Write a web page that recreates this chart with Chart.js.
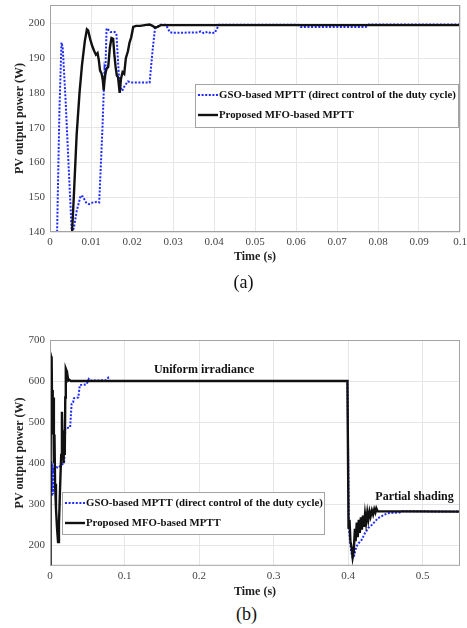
<!DOCTYPE html>
<html>
<head>
<meta charset="utf-8">
<script src="https://cdn.jsdelivr.net/npm/chart.js@4.4.1/dist/chart.umd.min.js"></script>
<style>
    body { margin: 0; background: #fff; width: 467px; height: 628px; position: relative; overflow: hidden; font-family: 'Liberation Serif', 'Times New Roman', serif; }
    canvas { position: absolute; left: 0; }
    .cap { position: absolute; width: 467px; text-align: center; font-size: 18px; line-height: 21px; color: #111; }
</style>
</head>
<body>
<canvas id="chartA" width="467" height="275" style="top:0"></canvas>
<canvas id="chartB" width="467" height="268" style="top:334px"></canvas>
<div class="cap" style="top:272px;left:10px">(a)</div>
<div class="cap" style="top:604px;left:13px">(b)</div>
<script>
// series labels
const seriesLabels = ['GSO-based MPTT (direct control of the duty cycle)', 'Proposed MFO-based MPTT'];

// (a) GSO
const timeA_gso = [0.0017, 0.0023, 0.0028, 0.0031, 0.0038, 0.0045, 0.0053, 0.0058, 0.0065, 0.0075, 0.0080, 0.0088, 0.0095,
    0.0105, 0.0115, 0.0120, 0.0128, 0.0133, 0.0135, 0.0138, 0.0142, 0.0148, 0.0158, 0.0162, 0.0168, 0.0172, 0.0176,
    0.0182, 0.0190, 0.0200, 0.0243, 0.0250, 0.0256, 0.0262, 0.0270, 0.0283, 0.0292, 0.0300, 0.0360, 0.0368, 0.0375,
    0.0385, 0.0392, 0.0402, 0.0412, 0.0605, 0.0612, 0.0770, 0.0778, 0.1000];
const powerA_gso = [138, 175, 194.5, 193, 178, 160, 140, 141, 146, 150.5, 150.2, 148.5, 148.0,
    148.5, 148.7, 148.5, 170, 187, 186, 198.6, 198.2, 197.5, 197.5, 197.0, 185, 181.5, 180.6,
    182.0, 183.3, 183.0, 183.0, 192, 198.5, 199.0, 199.6, 199.6, 197.5, 197.3, 197.4, 197.7, 197.2,
    197.6, 197.2, 197.3, 199.6, 199.6, 199.0, 199.0, 199.7, 199.7];

// (a) MFO
const timeA_mfo = [0.0053, 0.0058, 0.0065, 0.0072, 0.0078, 0.0085, 0.0090, 0.0093, 0.0098, 0.0103, 0.0108, 0.0112,
    0.0116, 0.0119, 0.0122, 0.0126, 0.0129, 0.0131, 0.0134, 0.0138, 0.0142, 0.0146, 0.0150, 0.0154, 0.0157, 0.0160,
    0.0163, 0.0166, 0.0170, 0.0173, 0.0177, 0.0181, 0.0185, 0.0190, 0.0194, 0.0198, 0.0203, 0.0210, 0.0220, 0.0235,
    0.0243, 0.0250, 0.0256, 0.0262, 0.0270, 0.1000];
const powerA_mfo = [138, 150, 168, 180, 188, 195, 198.3, 198.0, 195.5, 193.5, 192.0, 191.0,
    191.5, 189.5, 186.5, 185.5, 183.5, 180.8, 185.0, 187.0, 187.5, 193.0, 195.8, 195.6, 191.0, 187.5,
    185.0, 184.5, 180.0, 184.0, 186.0, 185.5, 190.0, 192.0, 194.5, 196.0, 199.0, 199.3, 199.3, 199.6,
    199.7, 199.3, 198.8, 199.0, 199.5, 199.5];

// (b) GSO
const timeB_gso = [0.0015, 0.0020, 0.0025, 0.0030, 0.0035, 0.0040, 0.0045, 0.0050, 0.0070, 0.0090, 0.0110, 0.0130,
    0.0150, 0.0170, 0.0190, 0.0205, 0.0270, 0.0290, 0.0310, 0.0320, 0.0380, 0.0400, 0.0490, 0.0520, 0.0540, 0.0750,
    0.0780, 0.0800, 0.3990, 0.4010, 0.4040, 0.4060, 0.4080, 0.4110, 0.4140, 0.4180, 0.4220, 0.4270, 0.4320, 0.4400,
    0.4480, 0.4530, 0.4600, 0.4690, 0.4730, 0.5500];
const powerB_gso = [405, 330, 400, 320, 395, 325, 390, 380, 385, 390, 388, 392,
    395, 398, 400, 485, 487, 545, 548, 558, 560, 590, 592, 605, 601, 602,
    608, 600, 600, 237, 185, 169, 175, 197, 205, 213, 228, 242, 250, 266,
    274, 278, 279, 280, 283, 282];

// (b) MFO
const timeB_mfo = [0.0000, 0.0008, 0.0015, 0.0022, 0.0028, 0.0033, 0.0040, 0.0046, 0.0052, 0.0060, 0.0068, 0.0080,
    0.0095, 0.0108, 0.0120, 0.0135, 0.0150, 0.0160, 0.0168, 0.0175, 0.0182, 0.0190, 0.0198, 0.0205, 0.0212, 0.0220,
    0.0228, 0.0236, 0.0245, 0.0260, 0.0280, 0.3990, 0.4005, 0.4018, 0.4030, 0.4045, 0.4060, 0.4075, 0.4090, 0.4100,
    0.4115, 0.4128, 0.4142, 0.4156, 0.4170, 0.4184, 0.4198, 0.4212, 0.4226, 0.4240, 0.4256, 0.4270, 0.4286, 0.4300,
    0.4318, 0.4334, 0.4350, 0.4365, 0.4378, 0.4395, 0.5500];
const powerB_mfo = [140, 400, 660, 655, 540, 578, 470, 560, 400, 470, 350, 290,
    240, 208, 250, 340, 420, 525, 430, 470, 400, 480, 420, 560, 630, 626,
    608, 612, 601, 603, 600, 600, 240, 262, 210, 195, 170, 185, 240, 210,
    255, 220, 262, 230, 268, 238, 272, 245, 276, 255, 280, 262, 282, 270,
    285, 275, 288, 280, 290, 283, 282];

const serif = "'Liberation Serif', 'Times New Roman', serif";

const toXY = (t, p) => t.map((x, i) => ({ x, y: p[i] }));

// box round the plot, like matlab
const framePlugin = {
    id: 'frame',
    afterDraw(chart) {
        const { ctx, chartArea: a } = chart;
        ctx.save();
        ctx.strokeStyle = '#a3a3a3';
        ctx.lineWidth = 1;
        ctx.strokeRect(a.left + 0.5, a.top + 0.5, a.right - a.left - 1, a.bottom - a.top - 1);
        ctx.restore();
    }
};

// legend drawn inside the plot at a fixed box
const boxLegend = {
    id: 'boxLegend',
    afterDraw(chart, args, opts) {
        const { ctx } = chart;
        const b = opts.box;
        ctx.save();
        ctx.fillStyle = '#fff';
        ctx.fillRect(b.x, b.y, b.w, b.h);
        ctx.strokeStyle = '#a3a3a3';
        ctx.lineWidth = 1;
        ctx.strokeRect(b.x + 0.5, b.y + 0.5, b.w, b.h);
        ctx.font = 'bold ' + opts.fontSize + 'px ' + serif;
        ctx.textBaseline = 'middle';
        chart.data.datasets.forEach((ds, i) => {
            const y = b.y + opts.rows[i];
            ctx.beginPath();
            ctx.strokeStyle = ds.borderColor;
            ctx.lineWidth = ds.borderWidth;
            ctx.setLineDash(ds.borderDash || []);
            ctx.moveTo(b.x + 3, y);
            ctx.lineTo(b.x + 23, y);
            ctx.stroke();
            ctx.setLineDash([]);
            ctx.fillStyle = '#111';
            ctx.fillText(ds.label, b.x + 24, y + 0.5);
        });
        ctx.restore();
    }
};

// text notes placed in data coords
const notesPlugin = {
    id: 'notes',
    afterDatasetsDraw(chart, args, opts) {
        const { ctx, scales } = chart;
        ctx.save();
        ctx.font = 'bold 12px ' + serif;
        ctx.fillStyle = '#111';
        ctx.textAlign = 'center';
        ctx.textBaseline = 'middle';
        (opts.items || []).forEach(n => {
            ctx.fillText(n.text, scales.x.getPixelForValue(n.x), scales.y.getPixelForValue(n.y));
        });
        ctx.restore();
    }
};

const fmtTick = v => (Math.abs(v) < 1e-9 ? '0' : String(+v.toFixed(3)));

const makeChart = (id, cfg) => {
    const ctx = document.getElementById(id).getContext('2d');
    return new Chart(ctx, {
        type: 'line',
        data: {
            datasets: [{
                label: seriesLabels[0],
                data: toXY(cfg.gsoT, cfg.gsoP),
                borderColor: '#1f2bff',
                borderWidth: 2,
                borderDash: [2, 1.6],
                pointRadius: 0,
                tension: 0,
                order: 2,
            }, {
                label: seriesLabels[1],
                data: toXY(cfg.mfoT, cfg.mfoP),
                borderColor: '#111',
                borderWidth: 2.4,
                pointRadius: 0,
                tension: 0,
                order: 1,
            }]
        },
        options: {
            responsive: false,
            animation: false,
            layout: { padding: { top: cfg.padTop, right: 7, left: 0, bottom: 0 } },
            plugins: {
                legend: { display: false },
                tooltip: { enabled: false },
                boxLegend: cfg.legend,
                notes: { items: cfg.notes || [] },
            },
            scales: {
                x: {
                    type: 'linear',
                    min: cfg.xMin, max: cfg.xMax,
                    border: { display: false },
                    grid: { color: '#e6e6e6', drawTicks: false },
                    ticks: { stepSize: cfg.xStep, includeBounds: false, padding: 4, color: '#444', font: { family: serif, size: 11 }, maxRotation: 0, callback: fmtTick },
                    title: { display: true, text: 'Time (s)', color: '#222', font: { family: serif, size: 12, weight: 'bold' }, padding: { top: 0, bottom: cfg.xTitlePad } },
                    afterFit: s => { s.height = cfg.xAxisH; s.paddingLeft = 0; s.paddingRight = 0; },
                },
                y: {
                    min: cfg.yMin, max: cfg.yMax,
                    border: { display: false },
                    grid: { color: '#e6e6e6', drawTicks: false },
                    ticks: { stepSize: cfg.yStep, includeBounds: false, padding: 5, color: '#444', font: { family: serif, size: 11 } },
                    title: { display: true, text: 'PV output power (W)', color: '#222', font: { family: serif, size: 12, weight: 'bold' }, padding: { top: 12.8, bottom: 0 } },
                    afterFit: s => { s.width = 50; s.paddingTop = 0; s.paddingBottom = 0; },
                }
            }
        },
        plugins: [framePlugin, notesPlugin, boxLegend]
    });
};

makeChart('chartA', {
    gsoT: timeA_gso, gsoP: powerA_gso, mfoT: timeA_mfo, mfoP: powerA_mfo,
    xMin: 0, xMax: 0.1, xStep: 0.01, yMin: 140, yMax: 205.3, yStep: 10,
    padTop: 5, xAxisH: 43, xTitlePad: 10.8,
    legend: { box: { x: 195, y: 84, w: 263, h: 43 }, rows: [11, 31], fontSize: 10.8 },
});

makeChart('chartB', {
    gsoT: timeB_gso, gsoP: powerB_gso, mfoT: timeB_mfo, mfoP: powerB_mfo,
    xMin: 0, xMax: 0.55, xStep: 0.1, yMin: 150, yMax: 700, yStep: 100,
    padTop: 6, xAxisH: 36.2, xTitlePad: 3.1,
    legend: { box: { x: 62, y: 158, w: 262, h: 42 }, rows: [11, 31], fontSize: 10.8 },
    notes: [
        { text: 'Uniform irradiance', x: 0.2067, y: 627 },
        { text: 'Partial shading', x: 0.489, y: 317 },
    ],
});
</script>
</body>
</html>
